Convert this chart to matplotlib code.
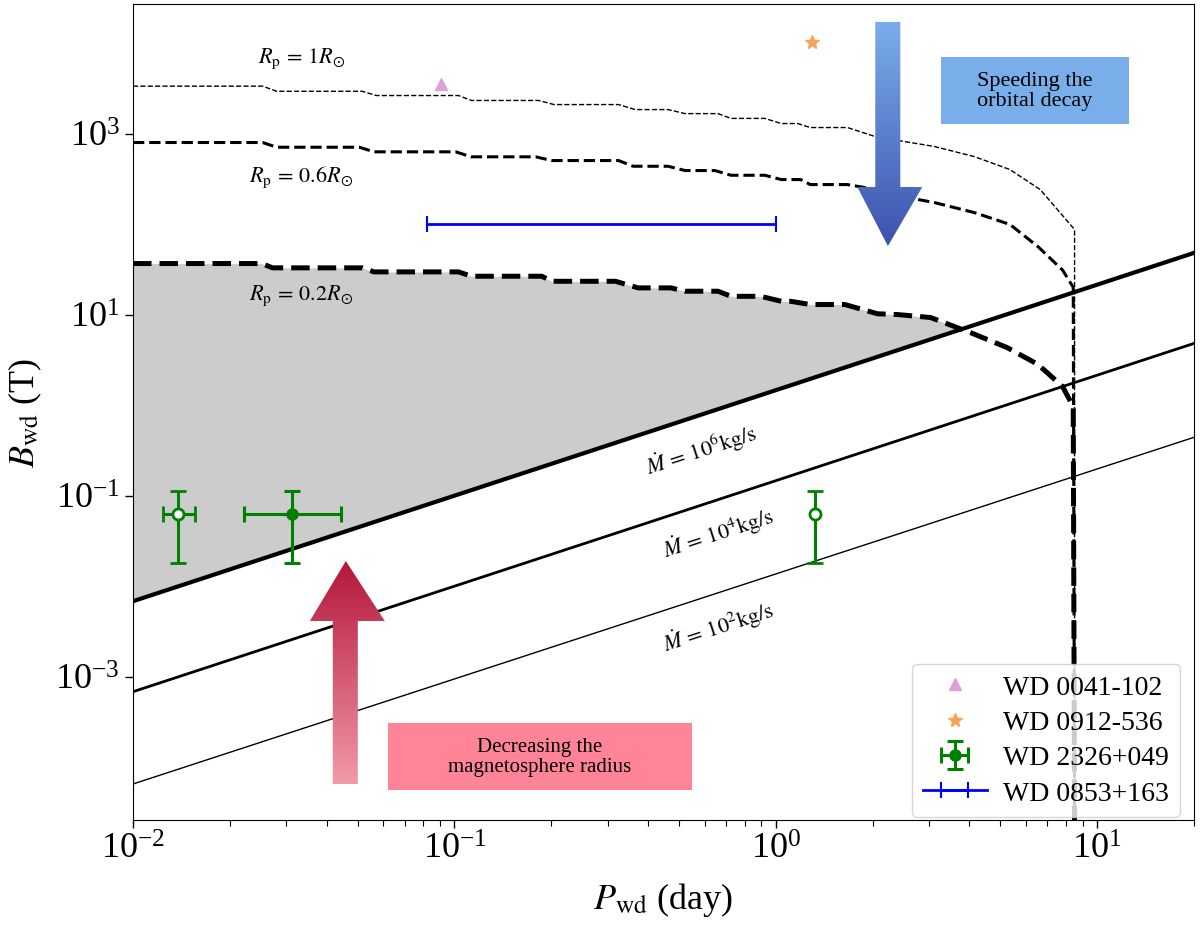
import numpy as np
import matplotlib
matplotlib.use('Agg')
import matplotlib.pyplot as plt
from matplotlib.patches import Polygon, Rectangle
from matplotlib.colors import LinearSegmentedColormap
from matplotlib.ticker import FixedLocator, NullLocator

plt.rcParams['font.family'] = ['Liberation Serif', 'DejaVu Serif']
plt.rcParams['mathtext.fontset'] = 'stix'

# accretion-rate lines (end points at the axis edges)
P_edges = [0.01, 20.0]
B_mdot6 = [6.8e-3, 48.0]
B_mdot4 = [6.8e-4, 4.8]
B_mdot2 = [6.5e-5, 0.44]

# planet-radius limits
P_rp1 = [0.01, 0.0253, 0.028, 0.0517, 0.0571, 0.103, 0.113, 0.183, 0.204, 0.324, 0.365,
         0.462, 0.522, 0.661, 0.725, 0.924, 1.04, 1.17, 1.28, 1.67, 2.03, 2.57, 3.11,
         4.14, 5.35, 6.65, 8.5, 8.501]
B_rp1 = [3340, 3340, 2930, 2930, 2630, 2630, 2320, 2320, 2090, 2090, 1840,
         1840, 1660, 1660, 1470, 1470, 1290, 1290, 1165, 1165, 930, 805, 720,
         557, 400, 240, 87, 2e-5]

P_rp06 = [0.01, 0.0253, 0.028, 0.0506, 0.0562, 0.101, 0.1125, 0.179, 0.201, 0.324, 0.360,
          0.462, 0.522, 0.647, 0.725, 0.924, 1.04, 1.195, 1.28, 1.67, 1.89, 2.57, 3.11,
          4.14, 5.35, 6.55, 7.8, 8.42, 8.5]
B_rp06 = [796, 796, 706, 706, 628, 628, 553, 553, 503, 503, 435,
          435, 390, 390, 346, 346, 310, 310, 273, 273, 253, 196, 173,
          134, 99, 56, 31, 20, 2e-5]

P_rp02 = [0.01, 0.0251, 0.0272, 0.0517, 0.0562, 0.103, 0.113, 0.187, 0.201, 0.317, 0.373,
          0.472, 0.522, 0.661, 0.725, 0.898, 1.04, 1.113, 1.28, 1.64, 2.07, 2.39, 3.03,
          4.03, 5.24, 6.55, 7.8, 8.42, 8.5]
B_rp02 = [36.6, 36.6, 32.8, 32.8, 29.6, 29.6, 26.5, 26.5, 23.3, 23.3, 19.7,
          19.7, 18.1, 18.1, 15.9, 15.9, 14.0, 14.0, 12.9, 12.9, 10.2, 10.0, 9.27,
          6.32, 4.32, 2.80, 1.60, 0.96, 2e-5]

# observed systems
P_0041, B_0041 = 0.0906, 3550
P_0912, B_0912 = 1.30, 1.02e4
P_2326 = [0.0313, 0.0138, 1.32]
B_2326 = [0.063, 0.063, 0.063]
P_2326_lo = [0.0221, 0.0124, 1.32]
P_2326_hi = [0.0445, 0.0156, 1.32]
B_2326_lo, B_2326_hi = 0.0182, 0.111
P_0853_lo, P_0853_hi, B_0853 = 0.082, 1.0, 100

y_ticks = [1e-3, 1e-1, 1e1, 1e3]

fig = plt.figure(figsize=(12, 9.37), dpi=100)
ax = fig.add_axes([133/1200, 1 - 821/937, (1194 - 133)/1200, (821 - 5)/937])
ax.set_xscale('log')
ax.set_yscale('log')

# grey region between the 0.2 Rsun limit and the 1e6 kg/s line
grid = np.geomspace(0.01, 6, 600)
curve = 10**np.interp(np.log10(grid), np.log10(P_rp02), np.log10(B_rp02))
line = 10**np.interp(np.log10(grid), np.log10(P_edges), np.log10(B_mdot6))
ax.fill_between(grid, line, curve, where=curve >= line, color='#cccccc', lw=0,
                interpolate=True, zorder=0)

ax.plot(P_edges, B_mdot6, color='black', lw=3.0, zorder=2)
ax.plot(P_edges, B_mdot4, color='black', lw=2.0, zorder=2)
ax.plot(P_edges, B_mdot2, color='black', lw=1.0, zorder=2)

ax.plot(P_rp1, B_rp1, color='black', ls='--', lw=1.0, zorder=3)
ax.plot(P_rp06, B_rp06, color='black', ls='--', lw=2.2, zorder=3)
ax.plot(P_rp02, B_rp02, color='black', ls='--', lw=3.6, zorder=3)

h1, = ax.plot(P_0041, B_0041, ls='none', marker='^', color='plum', ms=8, label='WD 0041-102')
h2, = ax.plot(P_0912, B_0912, ls='none', marker='*', color='#f9a25a', ms=10, label='WD 0912-536')

xerr = np.array([np.array(P_2326) - np.array(P_2326_lo), np.array(P_2326_hi) - np.array(P_2326)])
yerr = np.array([[B_2326[0] - B_2326_lo] * 3, [B_2326_hi - B_2326[0]] * 3])
h3 = ax.errorbar(P_2326[:1], B_2326[:1], xerr=xerr[:, :1], yerr=yerr[:, :1], fmt='o',
                 color='green', ms=8, elinewidth=2.2, capsize=6, capthick=2.2,
                 label='WD 2326+049', zorder=5)
ax.errorbar(P_2326[1:2], B_2326[1:2], xerr=xerr[:, 1:2], yerr=yerr[:, 1:2], fmt='o',
            color='green', mfc='white', ms=8, mew=2, elinewidth=2.2, capsize=6,
            capthick=2.2, zorder=5)
ax.errorbar(P_2326[2:], B_2326[2:], yerr=yerr[:, 2:], fmt='o',
            color='green', mfc='white', ms=8, mew=2, elinewidth=2.2, capsize=6,
            capthick=2.2, zorder=5)

P_0853 = (P_0853_lo + P_0853_hi) / 2
h4 = ax.errorbar([P_0853], [B_0853], xerr=[[P_0853 - P_0853_lo], [P_0853_hi - P_0853]],
                 fmt='-', color='blue', lw=2, elinewidth=2, capsize=6, capthick=1.5,
                 label='WD 0853+163', zorder=5)

# labels on the curves
ax.text(0.0334, 6920, r'$R_\mathrm{p}\,=\,1R_{\odot}$', fontsize=16, ha='center', va='center')
ax.text(0.0334, 335, r'$R_\mathrm{p}\,=\,0.6R_{\odot}$', fontsize=16, ha='center', va='center')
ax.text(0.0334, 16.6, r'$R_\mathrm{p}\,=\,0.2R_{\odot}$', fontsize=16, ha='center', va='center')
for P_t, B_t, e in [(0.585, 0.322, 6), (0.661, 0.039, 4), (0.661, 0.00356, 2)]:
    ax.text(P_t, B_t, r'$\dot{M}\,=\,10^{%d}\mathrm{kg/s}$' % e, fontsize=16,
            ha='center', va='center', rotation=18)

ax.set_xlim(0.01, 20)
ax.set_ylim(2.6e-5, 2.7e4)
ax.yaxis.set_major_locator(FixedLocator(y_ticks))
ax.yaxis.set_minor_locator(NullLocator())
ax.tick_params(labelsize=26, length=6, width=1)
ax.tick_params(which='minor', length=4, width=0.8)
ax.set_xlabel(r'$P_\mathrm{wd}$ (day)', fontsize=26, labelpad=10)
ax.set_ylabel(r'$B_\mathrm{wd}$ (T)', fontsize=26, labelpad=8)

ax.legend(handles=[h1, h2, h3, h4], loc='lower right', bbox_to_anchor=(0.987, 0.004),
          borderaxespad=0, fontsize=20, handletextpad=0.6, handlelength=2.3,
          labelspacing=0.35)

# overlay for arrows and notes, in axes fractions
ov = fig.add_axes(ax.get_position())
ov.set_axis_off()
ov.patch.set_alpha(0)


def grad_arrow(shaft_x, base_y, head_x, head_y, tip, colors):
    verts = [(shaft_x[0], base_y), (shaft_x[0], head_y), (head_x[0], head_y), tip,
             (head_x[1], head_y), (shaft_x[1], head_y), (shaft_x[1], base_y)]
    poly = Polygon(verts, closed=True, fc='none', ec='none')
    ov.add_patch(poly)
    cmap = LinearSegmentedColormap.from_list('g', colors)
    g = np.linspace(0, 1, 256).reshape(-1, 1)
    y0, y1 = min(base_y, tip[1]), max(base_y, tip[1])
    im = ov.imshow(g, cmap=cmap, extent=[head_x[0], head_x[1], y0, y1], origin='lower',
                   aspect='auto', interpolation='bilinear')
    im.set_clip_path(poly)


# blue arrow (down) and red arrow (up)
grad_arrow((0.6996, 0.7232), 0.978, (0.6827, 0.7439), 0.7757, (0.7115, 0.7034),
           ['#3c52ae', '#7aaeea'])
grad_arrow((0.1883, 0.2119), 0.0441, (0.1667, 0.2373), 0.2439, (0.2006, 0.3174),
           ['#f29aa8', '#b3163a'])

ov.add_patch(Rectangle((0.7618, 0.8529), 0.177, 0.0821, fc='#7aaeea', ec='none'))
ov.text(0.850, 0.894, 'Speeding the\norbital decay', fontsize=16, ha='center', va='center',
        linespacing=1.1)
ov.add_patch(Rectangle((0.2401, 0.0368), 0.2863, 0.0821, fc='#ff8497', ec='none'))
ov.text(0.3832, 0.0779, 'Decreasing the\nmagnetosphere radius', fontsize=15, ha='center',
        va='center', linespacing=1.1)
ov.set_xlim(0, 1)
ov.set_ylim(0, 1)

fig.savefig('out.png', dpi=100)
